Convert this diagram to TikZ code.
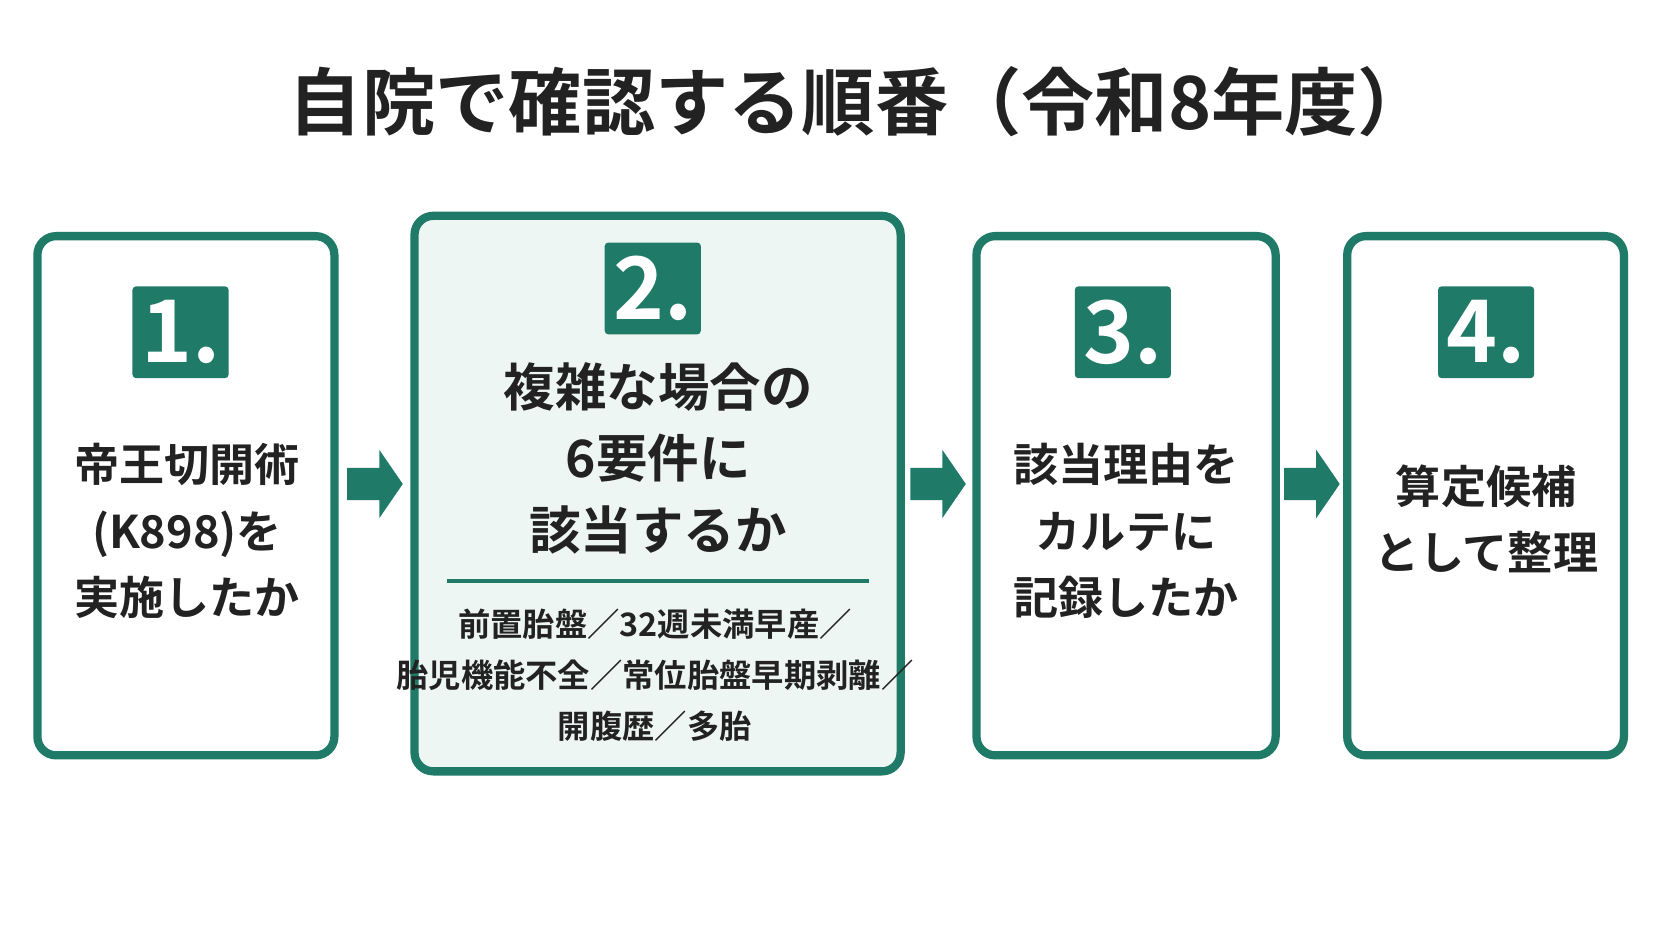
\documentclass[tikz,border=0pt]{standalone}
\usepackage{fontspec}
\setmainfont{Noto Sans CJK JP}[BoldFont={Noto Sans CJK JP Bold}]
\usetikzlibrary{positioning}
\definecolor{stepgreen}{HTML}{1F7A68}
\definecolor{pale}{HTML}{EEF6F4}
\definecolor{ink}{HTML}{222222}
\begin{document}
\begin{tikzpicture}[x=0.01cm,y=-0.01cm]
\tikzstyle{stage} = [draw=stepgreen, line width=2.2pt, rounded corners=5pt, fill=white]
\tikzstyle{badge} = [fill=stepgreen, text=white, font=\bfseries\fontsize{23}{23}\selectfont, minimum width=0.9cm, minimum height=0.86cm, inner sep=0pt, rounded corners=1pt]
\tikzstyle{body} = [text=ink, align=center, font=\bfseries\fontsize{12}{17.6}\selectfont]
\tikzstyle{flow} = [fill=stepgreen]

\fill[white] (0,0) rectangle (1565,881);

% boxes
\draw[stage] (35,221) rectangle (313,707);
\draw[stage, fill=pale] (388,202) rectangle (843,722);
\draw[stage] (914,221) rectangle (1194,707);
\draw[stage] (1261,221) rectangle (1520,707);

\node[font=\bfseries\fontsize{19.5}{19.5}\selectfont, text=ink] (title) at (805,95) {自院で確認する順番（令和8年度）};

\node[badge] (n1) at (169,311) {1.};
\node[badge] (n2) at (611,270) {2.};
\node[badge] (n3) at (1051,311) {3.};
\node[badge] (n4) at (1391,311) {4.};

\node[body] (t1) at (175,497) {帝王切開術\\(K898)を\\実施したか};
\node[body, font=\bfseries\fontsize{13.7}{19}\selectfont] (t2) at (616,429) {複雑な場合の\\6要件に\\該当するか};
\draw[stepgreen, line width=1pt] (418,544) -- (813,544);
\node[body, font=\bfseries\fontsize{8.6}{13.6}\selectfont] (t2b) at (613,632) {前置胎盤／32週未満早産／\\胎児機能不全／常位胎盤早期剥離／\\開腹歴／多胎};
\node[body] (t3) at (1054,497) {該当理由を\\カルテに\\記録したか};
\node[body] (t4) at (1391,486) {算定候補\\として整理};

% arrows
\foreach \x in {325, 852, 1202} {
\fill[flow] (\x,438) -- ++(30,0) -- ++(0,-17) -- ++(22,32) -- ++(-22,32) -- ++(0,-17) -- ++(-30,0) -- cycle;
}
\end{tikzpicture}
\end{document}
